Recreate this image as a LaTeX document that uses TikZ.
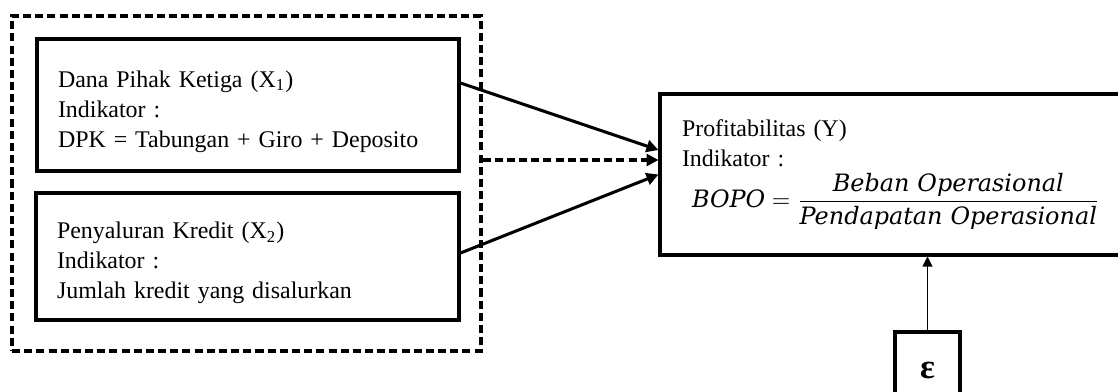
\documentclass[tikz,border=0pt]{standalone}
\usepackage{fontspec}
\setmainfont{Liberation Serif}
\newfontfamily\formfont{DejaVu Serif}
\usetikzlibrary{arrows.meta,calc}
\newlength\px
\setlength\px{0.46pt}
\newcommand\fm[1]{\hbox{\formfont\itshape\fontsize{11}{13}\selectfont #1}}
\newcommand\topstrut{\rule{0pt}{13.5pt}}
\tikzset{
  varbox/.style={draw, line width=1.4pt, rectangle, align=left, inner xsep=0pt, inner ysep=0pt,
    font=\fontsize{11}{13.8}\selectfont},
  outerbox/.style={draw, line width=1.4pt, dash pattern=on 3.7pt off 1.9pt, rectangle, inner sep=0pt},
  link/.style={line width=1.4pt, -{Triangle[length=5.5pt,width=5.5pt]}},
  errlink/.style={line width=0.5pt, -{Triangle[length=4.6pt,width=4.6pt]}}
}
\begin{document}
\begin{tikzpicture}[x=0.46pt,y=-0.46pt]
\useasboundingbox (0,0) rectangle (1118,392);

% variabel independen
\node (grp) [outerbox, minimum width=469\px, minimum height=335\px] at (246.5,183.5) {};
\node (X1) [varbox, minimum width=422\px, minimum height=132\px, text width=380\px] at (248,105)
  {\topstrut Dana Pihak Ketiga (X\textsubscript{1})\\ Indikator :\\ DPK = Tabungan + Giro + Deposito};
\node (X2) [varbox, minimum width=423\px, minimum height=127\px, text width=381\px] at (247.5,256.5)
  {\topstrut Penyaluran Kredit (X\textsubscript{2})\\ Indikator :\\ Jumlah kredit yang disalurkan};

% variabel dependen
\node (Y) [varbox, minimum width=462\px, minimum height=161\px, text width=418\px] at (891,174.5)
  {Profitabilitas (Y)\\ Indikator :\\[2pt]
   \hspace*{10\px}\mbox{$\displaystyle\fm{BOPO} = \frac{\fm{Beban Operasional}}{\fm{Pendapatan Operasional}}$}};

% error
\node (eps) [varbox, align=center, minimum width=65\px, minimum height=76\px] at (927.5,370)
  {\bfseries\fontsize{16}{16}\selectfont ε};

\draw[link] ($(X1.east)+(0,-22)$) -- ($(Y.west)+(0,-24.5)$);
\draw[link] ($(X2.east)+(0,-3.5)$) -- (Y.west);
\draw[link, dash pattern=on 3.7pt off 1.9pt] ($(grp.east)+(0,-23.5)$) -- ($(Y.west)+(0,-14.5)$);
\draw[errlink] (eps.north) -- (eps.north |- Y.south);
\end{tikzpicture}
\end{document}
